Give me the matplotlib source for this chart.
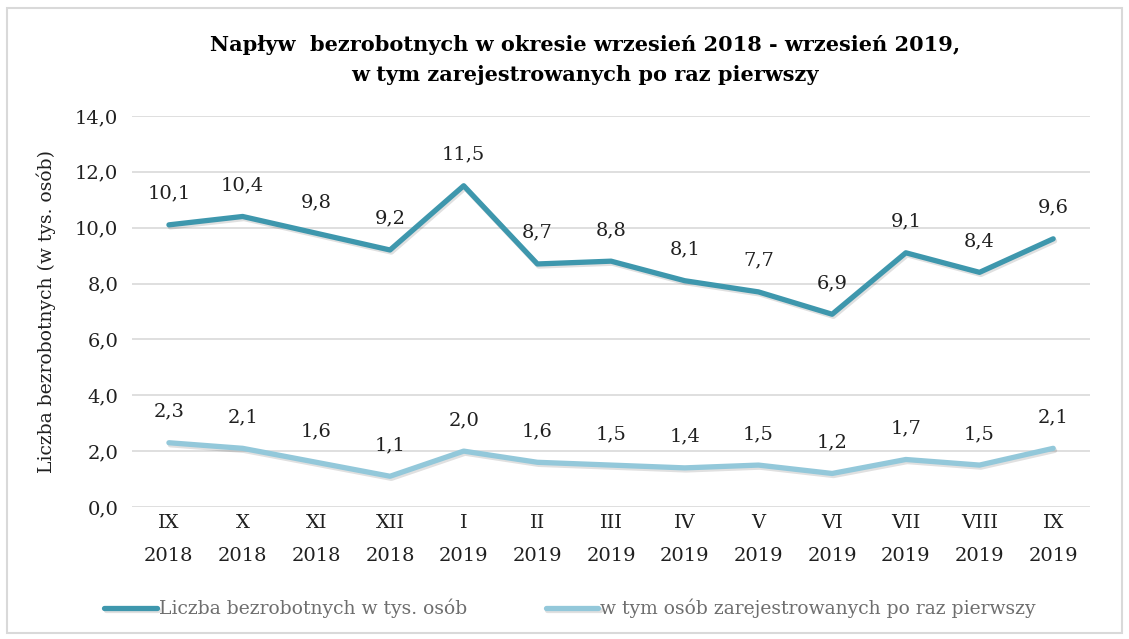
import matplotlib.pyplot as plt
import matplotlib.patheffects as pe
from matplotlib.patches import Rectangle

months = ["IX\n2018", "X\n2018", "XI\n2018", "XII\n2018", "I\n2019", "II\n2019", "III\n2019",
          "IV\n2019", "V\n2019", "VI\n2019", "VII\n2019", "VIII\n2019", "IX\n2019"]
total = [10.1, 10.4, 9.8, 9.2, 11.5, 8.7, 8.8, 8.1, 7.7, 6.9, 9.1, 8.4, 9.6]
first_time = [2.3, 2.1, 1.6, 1.1, 2.0, 1.6, 1.5, 1.4, 1.5, 1.2, 1.7, 1.5, 2.1]

plt.rcParams['font.family'] = ['DejaVu Serif']

fig = plt.figure(figsize=(11.29, 6.39), dpi=100)
ax = fig.add_axes([0.117, 0.2066, 0.8485, 0.612])

shadow = [pe.SimpleLineShadow(offset=(1, -1.5), alpha=0.12, rho=0.5), pe.Normal()]
x = range(len(months))
ax.plot(x, total, color="#3E97AD", lw=3.8, solid_capstyle="round",
        path_effects=shadow, label="Liczba bezrobotnych w tys. osób", zorder=3)
ax.plot(x, first_time, color="#93C8DA", lw=3.8, solid_capstyle="round",
        path_effects=shadow, label="w tym osób zarejestrowanych po raz pierwszy", zorder=3)

for i in x:
    ax.annotate(f"{total[i]:.1f}".replace(".", ","), (i, total[i]), xytext=(0, 16),
                textcoords="offset points", ha="center", va="bottom", fontsize=14, color="#202020")
    ax.annotate(f"{first_time[i]:.1f}".replace(".", ","), (i, first_time[i]), xytext=(0, 16),
                textcoords="offset points", ha="center", va="bottom", fontsize=14, color="#202020")

ax.set_xlim(-0.5, len(months) - 0.5)
ax.set_ylim(0, 14)
ax.set_yticks([0, 2, 4, 6, 8, 10, 12, 14])
ax.set_yticklabels([f"{v:.1f}".replace(".", ",") for v in ax.get_yticks()])
ax.set_xticks(list(x))
ax.set_xticklabels(months, linespacing=2.1)
ax.tick_params(length=0, labelsize=14, colors="#202020")
ax.tick_params(axis="x", pad=5)
ax.tick_params(axis="y", pad=10)
ax.grid(axis="y", color="#D9D9D9", lw=1.2)
ax.set_axisbelow(True)
for s in ax.spines.values():
    s.set_visible(False)
ax.set_ylabel("Liczba bezrobotnych (w tys. osób)", fontsize=13.5, color="#202020", labelpad=14)

fig.suptitle("Napływ  bezrobotnych w okresie wrzesień 2018 - wrzesień 2019,\nw tym zarejestrowanych po raz pierwszy",
             x=0.518, y=0.945, fontsize=15, fontweight="bold", linespacing=1.6)

leg = fig.legend(loc="center", bbox_to_anchor=(0.505, 0.048), ncol=2, frameon=False,
                 fontsize=13.5, handlelength=2.8, handletextpad=0.1, columnspacing=4.2)
for t in leg.get_texts():
    t.set_color("#6E6E6E")

fig.patches.append(Rectangle((0.006, 0.01), 0.988, 0.978, transform=fig.transFigure,
                             fill=False, edgecolor="#D9D9D9", lw=1.5))

fig.savefig("out.png")
